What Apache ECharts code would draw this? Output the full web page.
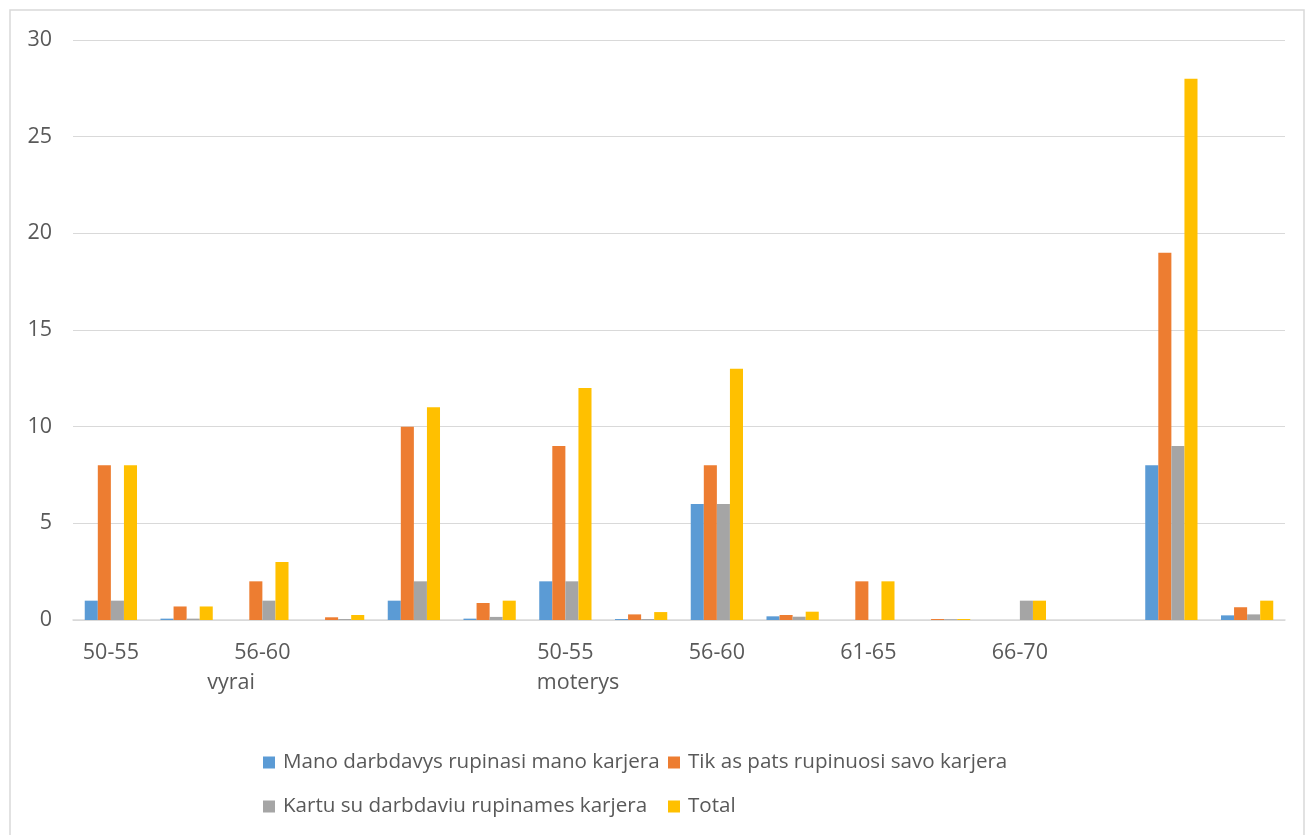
<!DOCTYPE html>
<html>
<head>
<meta charset="utf-8">
<script src="https://cdn.jsdelivr.net/npm/echarts@6/dist/echarts.min.js"></script>
<style>
  html, body { margin: 0; padding: 0; background: #ffffff; }
  #chart { width: 1309px; height: 835px; }
</style>
</head>
<body>
<div id="chart"></div>
<script>
// Age-group slots; only some carry a visible label
const categories = ['50-55', '', '56-60', '', '', '', '50-55', '', '56-60', '', '61-65', '', '66-70', '', '', ''];
const groupLabels = ['vyrai', 'moterys'];

const seriesNames = [
  'Mano darbdavys rupinasi mano karjera',
  'Tik as pats rupinuosi savo karjera',
  'Kartu su darbdaviu rupinames karjera',
  'Total'
];

const employerCares = [1, 0.07, 0, 0, 1, 0.07, 2, 0.05, 6, 0.19, 0, 0, 0, 0, 8, 0.24];
const selfCares     = [8, 0.7, 2, 0.14, 10, 0.88, 9, 0.29, 8, 0.26, 2, 0.05, 0, 0, 19, 0.66];
const togetherCares = [1, 0.07, 1, 0.05, 2, 0.16, 2, 0.05, 6, 0.17, 0, 0.04, 1, 0, 9, 0.29];
const totals        = [8, 0.7, 3, 0.26, 11, 1, 12, 0.41, 13, 0.43, 2, 0.05, 1, 0, 28, 1];

const yTicks = { min: 0, max: 30, interval: 5 };

const colors = ['#5b9bd5', '#ed7d31', '#a5a5a5', '#ffc000'];
const values = [employerCares, selfCares, togetherCares, totals];

const chart = echarts.init(document.getElementById('chart'), null, { renderer: 'canvas' });

const FONT = '"Open Sans", "Liberation Sans", sans-serif';
const TXT = '#595959';
const AXIS_FS = 21.5;
const LEGEND_FS = 20.6;

// One legend box per entry so the two columns line up
const legendSlots = [
  { left: 263, top: 752 },
  { left: 668, top: 752 },
  { left: 263, top: 796 },
  { left: 668, top: 796 }
];

chart.setOption({
  animation: false,
  color: colors,
  grid: { left: 73, right: 24, top: 40, bottom: 215 },
  legend: seriesNames.map((name, i) => ({
    data: [name],
    left: legendSlots[i].left,
    top: legendSlots[i].top,
    padding: 0,
    itemWidth: 12, itemHeight: 12,
    icon: 'rect',
    textStyle: { color: TXT, fontSize: LEGEND_FS, fontFamily: FONT, padding: [0, 0, 0, 3] }
  })),
  xAxis: {
    type: 'category',
    data: categories,
    axisLine: { lineStyle: { color: '#d9d9d9', width: 1.5 } },
    axisTick: { show: false },
    axisLabel: { interval: 0, color: TXT, fontSize: AXIS_FS, fontFamily: FONT, margin: 22 }
  },
  yAxis: {
    type: 'value',
    min: yTicks.min, max: yTicks.max, interval: yTicks.interval,
    axisLine: { show: false },
    axisTick: { show: false },
    splitLine: { lineStyle: { color: '#d9d9d9', width: 1 } },
    axisLabel: { color: TXT, fontSize: AXIS_FS, fontFamily: FONT, margin: 21 }
  },
  series: seriesNames.map((name, i) => ({
    name,
    type: 'bar',
    data: values[i],
    barGap: '0%',
    barCategoryGap: '31%',
    itemStyle: { color: colors[i] }
  })),
  graphic: [
    {
      type: 'rect',
      shape: { x: 10, y: 10, width: 1294, height: 840 },
      style: { fill: 'none', stroke: '#d9d9d9', lineWidth: 1.5 },
      silent: true
    },
    {
      type: 'text', x: 231, y: 683,
      style: { text: groupLabels[0], fill: TXT, fontSize: AXIS_FS, fontFamily: FONT, textAlign: 'center', textVerticalAlign: 'middle' }
    },
    {
      type: 'text', x: 578, y: 683,
      style: { text: groupLabels[1], fill: TXT, fontSize: AXIS_FS, fontFamily: FONT, textAlign: 'center', textVerticalAlign: 'middle' }
    }
  ]
});
</script>
</body>
</html>
